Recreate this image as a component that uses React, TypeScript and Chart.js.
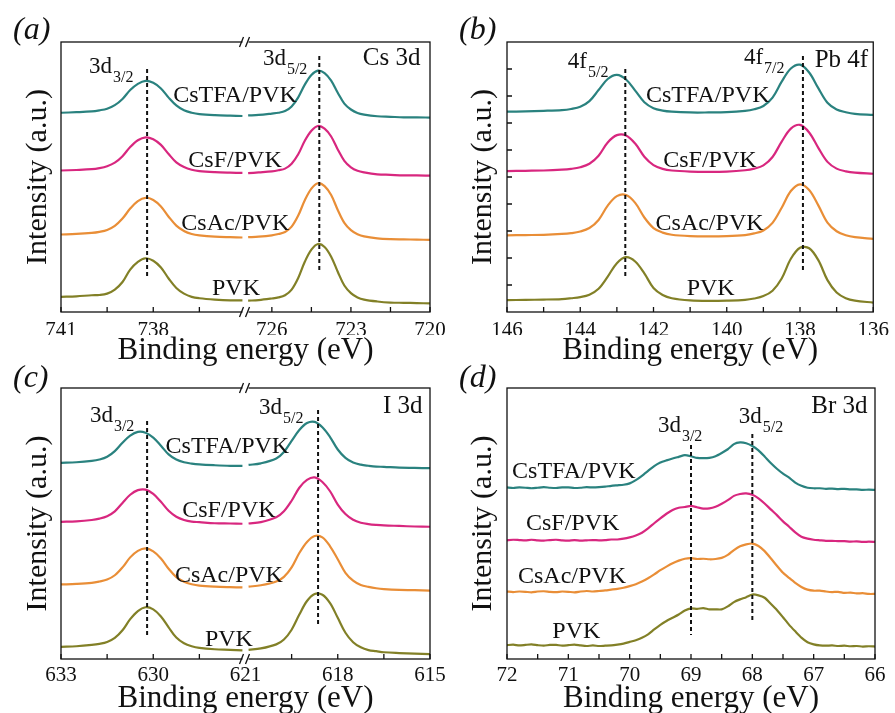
import React, { useEffect, useRef } from "react";
import { Chart, registerables } from "chart.js";

Chart.register(...registerables);

const FONT = "'Liberation Serif', 'Times New Roman', Times, serif";
const SAMPLE_NAMES = ["CsTFA/PVK", "CsF/PVK", "CsAc/PVK", "PVK"];
const SAMPLE_COLORS = ["#2a827f", "#d8277f", "#e98e37", "#828027"];

// ---------- (a) Cs 3d ----------
const csEnergyHigh = [741, 740.5, 740, 739.75, 739.5, 739.25, 739, 738.75, 738.5, 738.25, 738, 737.75, 737.5, 737.25, 737, 736.75, 736.5, 736, 735.5, 735.1];
const csHighCsTFA = [73.8, 74.0, 74.3, 74.7, 75.3, 76.6, 78.9, 82.2, 84.5, 85.6, 84.9, 82.8, 79.4, 76.5, 74.7, 73.8, 73.3, 72.9, 72.7, 72.6];
const csHighCsF = [52.4, 52.6, 52.9, 53.3, 54.0, 55.3, 57.7, 61.1, 63.6, 64.7, 64.0, 61.9, 58.5, 55.4, 53.7, 52.7, 52.2, 51.8, 51.6, 51.5];
const csHighCsAc = [28.7, 28.9, 29.3, 29.7, 30.4, 31.9, 34.6, 38.3, 41.1, 42.3, 41.5, 39.1, 35.3, 32.0, 30.0, 28.9, 28.4, 27.9, 27.7, 27.6];
const csHighPVK = [5.6, 5.8, 6.2, 6.3, 6.8, 8.3, 11.1, 15.7, 18.6, 19.9, 19.0, 16.5, 12.4, 8.9, 6.8, 5.6, 5.1, 4.6, 4.3, 4.3];

const csEnergyLow = [726.9, 726.5, 726, 725.75, 725.5, 725.25, 725, 724.75, 724.5, 724.25, 724, 723.75, 723.5, 723.25, 723, 722.75, 722.5, 722, 721.5, 721, 720.5, 720];
const csLowCsTFA = [72.8, 73.0, 73.5, 73.8, 74.4, 76.1, 79.5, 84.2, 87.8, 89.4, 88.5, 85.7, 81.2, 77.2, 75.0, 73.7, 73.1, 72.5, 72.3, 72.1, 72.1, 72.0];
const csLowCsF = [51.4, 51.7, 52.1, 52.5, 53.1, 54.9, 58.4, 63.4, 67.1, 68.9, 67.9, 65.0, 60.2, 56.0, 53.6, 52.3, 51.7, 51.0, 50.8, 50.6, 50.6, 50.5];
const csLowCsAc = [27.7, 27.9, 28.4, 28.9, 29.6, 31.6, 35.7, 41.4, 45.7, 47.7, 46.6, 43.3, 37.8, 33.0, 30.3, 28.8, 28.0, 27.3, 27.0, 26.9, 26.8, 26.7];
const csLowPVK = [4.2, 4.4, 5.0, 5.4, 6.2, 8.3, 12.6, 18.6, 23.1, 25.2, 24.1, 20.5, 14.9, 9.8, 7.0, 5.4, 4.6, 3.9, 3.5, 3.4, 3.3, 3.2];

const csTicksHigh = [741, 739.5, 738, 736.5];
const csTicksLow = [726, 724.5, 723, 721.5, 720];
const csTickLabels = [741, 738, 726, 723, 720];

// ---------- (b) Pb 4f ----------
const pbEnergy = [146, 145.5, 145, 144.5, 144.25, 144, 143.75, 143.5, 143.25, 143, 142.75, 142.5, 142.25, 142, 141.75, 141.5, 141, 140.5, 140, 139.5, 139.25, 139, 138.75, 138.5, 138.25, 138, 137.75, 137.5, 137.25, 137, 136.75, 136.5, 136];
const pbCsTFA = [74.2, 74.3, 74.5, 74.8, 75.2, 76.0, 78.1, 82.2, 86.3, 87.8, 86.1, 82.0, 77.7, 75.5, 74.6, 74.2, 73.9, 73.9, 74.0, 74.5, 75.1, 76.3, 79.4, 85.3, 90.2, 91.6, 88.7, 82.9, 77.5, 75.0, 74.0, 73.4, 73.0];
const pbCsF = [52.2, 52.3, 52.4, 52.7, 53.0, 53.6, 54.9, 57.9, 62.8, 65.5, 65.4, 62.4, 57.5, 54.4, 53.0, 52.4, 52.0, 51.9, 52.0, 52.5, 53.1, 54.3, 57.4, 63.1, 67.9, 69.3, 66.5, 60.8, 55.6, 53.1, 52.1, 51.6, 51.2];
const pbCsAc = [28.4, 28.5, 28.6, 28.9, 29.2, 29.8, 31.1, 34.1, 39.4, 42.9, 43.3, 40.4, 35.0, 31.1, 29.4, 28.6, 28.1, 28.0, 28.1, 28.5, 29.1, 30.2, 33.0, 38.6, 44.8, 47.3, 45.2, 39.5, 33.1, 29.9, 28.4, 27.7, 27.1];
const pbPVK = [4.4, 4.5, 4.6, 4.8, 5.1, 5.5, 6.4, 8.6, 13.1, 18.1, 20.3, 18.7, 14.3, 8.9, 6.3, 5.1, 4.3, 4.1, 4.2, 4.5, 5.0, 5.9, 7.9, 12.4, 19.7, 23.8, 23.6, 19.2, 11.8, 7.2, 5.1, 4.2, 3.5];
const pbTicks = [146, 145, 144, 143, 142, 141, 140, 139, 138, 137, 136];
const pbTickLabels = [146, 144, 142, 140, 138, 136];

// ---------- (c) I 3d ----------
const iEnergyHigh = [633, 632.5, 632, 631.75, 631.5, 631.25, 631, 630.75, 630.5, 630.25, 630, 629.75, 629.5, 629.25, 629, 628.75, 628.5, 628, 627.5, 627.1];
const iHighCsTFA = [72.4, 72.6, 73.1, 73.6, 74.6, 76.7, 79.8, 82.4, 83.8, 83.5, 81.7, 78.7, 75.5, 73.6, 72.6, 72.1, 71.8, 71.5, 71.3, 71.3];
const iHighCsF = [50.6, 50.8, 51.3, 51.8, 52.7, 54.5, 57.6, 60.6, 62.3, 62.5, 60.9, 58.0, 54.7, 52.5, 51.3, 50.7, 50.5, 50.1, 50.0, 49.9];
const iHighCsAc = [27.5, 27.7, 28.1, 28.6, 29.3, 30.9, 33.8, 37.5, 39.9, 40.8, 39.7, 37.1, 33.3, 30.2, 28.5, 27.6, 27.1, 26.7, 26.5, 26.4];
const iHighPVK = [4.5, 4.7, 5.2, 5.6, 6.3, 7.8, 10.6, 14.7, 17.7, 19.1, 18.3, 15.7, 11.7, 7.9, 5.8, 4.7, 4.1, 3.6, 3.4, 3.2];

const iEnergyLow = [620.9, 620.5, 620, 619.75, 619.5, 619.25, 619, 618.75, 618.5, 618.25, 618, 617.75, 617.5, 617.25, 617, 616.75, 616.5, 616, 615.5, 615];
const iLowCsTFA = [71.6, 72.2, 74.0, 76.4, 80.5, 84.5, 87.1, 87.5, 85.5, 81.9, 77.3, 74.2, 72.5, 71.7, 71.3, 71.0, 70.9, 70.6, 70.5, 70.4];
const iLowCsF = [50.0, 50.5, 52.3, 54.5, 58.4, 63.2, 66.1, 67.0, 65.3, 61.9, 57.0, 53.5, 51.4, 50.3, 49.8, 49.5, 49.3, 49.1, 48.9, 48.8];
const iLowCsAc = [26.7, 27.2, 28.6, 30.3, 33.8, 39.1, 43.2, 45.4, 44.9, 41.6, 36.8, 31.8, 28.9, 27.3, 26.6, 26.1, 25.8, 25.5, 25.4, 25.2];
const iLowPVK = [3.4, 3.9, 5.4, 7.2, 10.8, 16.4, 21.4, 24.0, 23.7, 20.6, 15.2, 9.7, 6.2, 4.3, 3.3, 2.9, 2.5, 2.2, 2.0, 1.8];

const iTicksHigh = [633, 631.5, 630, 628.5];
const iTicksLow = [621, 619.5, 618, 616.5, 615];
const iTickLabels = [633, 630, 621, 618, 615];

// ---------- (d) Br 3d ----------
const brEnergy = [72.0, 71.9, 71.8, 71.7, 71.6, 71.5, 71.4, 71.3, 71.2, 71.1, 71.0, 70.9, 70.8, 70.7, 70.6, 70.5, 70.4, 70.3, 70.2, 70.1, 70.0, 69.9, 69.8, 69.7, 69.6, 69.5, 69.4, 69.3, 69.2, 69.1, 69.0, 68.9, 68.8, 68.7, 68.6, 68.5, 68.4, 68.3, 68.2, 68.1, 68.0, 67.9, 67.8, 67.7, 67.6, 67.5, 67.4, 67.3, 67.2, 67.1, 67.0, 66.9, 66.8, 66.7, 66.6, 66.5, 66.4, 66.3, 66.2, 66.1, 66.0];
const brCsTFA = [63.3, 63.1, 63.3, 63.2, 63.0, 63.2, 63.4, 63.2, 63.1, 63.3, 63.3, 63.1, 63.2, 63.4, 63.3, 63.4, 63.6, 63.9, 64.1, 64.3, 64.8, 66.0, 67.6, 69.4, 71.2, 72.5, 73.3, 74.0, 74.6, 75.2, 74.8, 74.2, 74.1, 74.2, 74.8, 76.0, 77.4, 79.3, 79.9, 79.6, 78.6, 77.0, 74.7, 72.3, 70.2, 68.4, 66.9, 65.1, 63.9, 63.2, 63.0, 63.0, 62.8, 62.9, 62.7, 62.8, 62.6, 62.6, 62.4, 62.5, 62.4];
const brCsF = [43.8, 44.0, 43.9, 43.8, 44.0, 43.8, 43.7, 43.9, 44.0, 43.8, 43.7, 43.9, 43.7, 43.8, 43.9, 43.8, 43.9, 44.1, 44.1, 44.4, 44.9, 45.6, 46.6, 48.2, 50.1, 51.9, 53.6, 55.0, 55.8, 56.1, 56.5, 56.0, 55.5, 55.6, 56.2, 57.3, 58.6, 60.2, 60.9, 61.1, 60.6, 59.3, 57.4, 55.2, 53.1, 50.8, 48.8, 46.7, 45.1, 44.4, 44.0, 43.8, 43.6, 43.6, 43.5, 43.5, 43.3, 43.4, 43.2, 43.3, 43.2];
const brCsAc = [24.9, 24.7, 24.9, 24.8, 24.6, 24.9, 25.0, 24.8, 24.7, 24.9, 24.8, 24.6, 24.9, 25.1, 24.9, 25.1, 25.3, 25.6, 25.9, 26.3, 26.9, 27.6, 28.6, 29.8, 31.2, 32.8, 34.1, 35.3, 36.3, 37.0, 37.2, 36.9, 37.0, 36.8, 36.9, 37.3, 38.4, 40.2, 41.6, 42.3, 42.6, 41.7, 39.8, 37.2, 34.4, 31.8, 29.9, 28.1, 26.6, 25.6, 25.2, 25.2, 24.9, 24.7, 24.8, 24.4, 24.5, 24.2, 24.3, 24.0, 24.0];
const brPVK = [5.1, 5.3, 5.0, 5.2, 5.4, 5.1, 4.9, 5.2, 5.2, 4.9, 5.1, 5.3, 5.0, 4.8, 5.0, 4.8, 4.9, 5.0, 5.3, 5.7, 6.3, 6.9, 7.8, 9.1, 10.9, 12.6, 14.0, 15.2, 16.4, 17.9, 18.7, 18.5, 18.8, 18.3, 18.3, 18.3, 19.4, 21.0, 22.0, 22.8, 23.8, 23.5, 22.6, 20.4, 18.1, 15.4, 12.6, 10.2, 7.9, 6.2, 5.4, 5.0, 4.9, 5.0, 4.8, 4.9, 4.7, 4.8, 4.6, 4.7, 4.6];
const brTicks = [72, 71.5, 71, 70.5, 70, 69.5, 69, 68.5, 68, 67.5, 67, 66.5, 66];
const brTickLabels = [72, 71, 70, 69, 68, 67, 66];

type Seg = { id: string; min: number; max: number; ticks: number[]; energies: number[]; series: number[][] };
type Pt = { axis: string; x: number; y: number };
type Panel = {
  tag: string;
  element: string;
  pad: { left: number; top: number; right: number; bottom: number };
  yAxisWidth: number;
  yTitlePad: number;
  xAxisHeight: number;
  tickPad: number;
  tagDy: number;
  yTicks: boolean;
  tension: number;
  tickLabels: number[];
  segments: Seg[];
  dashes: { axis: string; x: number; y0: number; y1: number }[];
  peaks: (Pt & { main: string; sub: string })[];
  elementAt: Pt;
  samplesAt: Pt[];
};

const PANELS: Panel[] = [
  {
    tag: "(a)",
    element: "Cs 3d",
    pad: { left: 0, top: 42, right: 465, bottom: 347 },
    yAxisWidth: 61,
    yTitlePad: 23,
    xAxisHeight: 23,
    tickPad: 6,
    tagDy: -3,
    yTicks: false,
    tension: 0.35,
    tickLabels: csTickLabels,
    segments: [
      { id: "xl", min: 735, max: 741, ticks: csTicksHigh, energies: csEnergyHigh, series: [csHighCsTFA, csHighCsF, csHighCsAc, csHighPVK] },
      { id: "xr", min: 720, max: 727, ticks: csTicksLow, energies: csEnergyLow, series: [csLowCsTFA, csLowCsF, csLowCsAc, csLowPVK] },
    ],
    dashes: [
      { axis: "xl", x: 738.2, y0: 13, y1: 90 },
      { axis: "xr", x: 724.2, y0: 14.4, y1: 94.8 },
    ],
    peaks: [
      { axis: "xl", x: 740.09, y: 88.5, main: "3d", sub: "3/2" },
      { axis: "xr", x: 726.34, y: 91.5, main: "3d", sub: "5/2" },
    ],
    elementAt: { axis: "xr", x: 722.55, y: 91.5 },
    samplesAt: [
      { axis: "xl", x: 735.34, y: 77.8 },
      { axis: "xl", x: 735.34, y: 53.7 },
      { axis: "xl", x: 735.33, y: 30.4 },
      { axis: "xl", x: 735.31, y: 6.3 },
    ],
  },
  {
    tag: "(b)",
    element: "Pb 4f",
    pad: { left: 447, top: 42, right: 20, bottom: 347 },
    yAxisWidth: 60,
    yTitlePad: 21,
    xAxisHeight: 23,
    tickPad: 6,
    tagDy: -3,
    yTicks: true,
    tension: 0.35,
    tickLabels: pbTickLabels,
    segments: [{ id: "x", min: 136, max: 146, ticks: pbTicks, energies: pbEnergy, series: [pbCsTFA, pbCsF, pbCsAc, pbPVK] }],
    dashes: [
      { axis: "x", x: 142.77, y0: 13, y1: 90 },
      { axis: "x", x: 137.92, y0: 14.8, y1: 94.8 },
    ],
    peaks: [
      { axis: "x", x: 144.34, y: 90.4, main: "4f", sub: "5/2" },
      { axis: "x", x: 139.53, y: 91.9, main: "4f", sub: "7/2" },
    ],
    elementAt: { axis: "x", x: 137.6, y: 90.7 },
    samplesAt: [
      { axis: "x", x: 140.52, y: 77.8 },
      { axis: "x", x: 140.46, y: 53.7 },
      { axis: "x", x: 140.47, y: 30.4 },
      { axis: "x", x: 140.44, y: 6.3 },
    ],
  },
  {
    tag: "(c)",
    element: "I 3d",
    pad: { left: 0, top: 388, right: 465, bottom: -1 },
    yAxisWidth: 61,
    yTitlePad: 23,
    xAxisHeight: 24,
    tickPad: 4,
    tagDy: -1,
    yTicks: false,
    tension: 0.35,
    tickLabels: iTickLabels,
    segments: [
      { id: "xl", min: 627, max: 633, ticks: iTicksHigh, energies: iEnergyHigh, series: [iHighCsTFA, iHighCsF, iHighCsAc, iHighPVK] },
      { id: "xr", min: 615, max: 621, ticks: iTicksLow, energies: iEnergyLow, series: [iLowCsTFA, iLowCsF, iLowCsAc, iLowPVK] },
    ],
    dashes: [
      { axis: "xl", x: 630.2, y0: 8.1, y1: 87.8 },
      { axis: "xr", x: 618.64, y0: 11.8, y1: 91.9 },
    ],
    peaks: [
      { axis: "xl", x: 632.06, y: 87.5, main: "3d", sub: "3/2" },
      { axis: "xr", x: 620.56, y: 90.4, main: "3d", sub: "5/2" },
    ],
    elementAt: { axis: "xr", x: 616.53, y: 90.8 },
    samplesAt: [
      { axis: "xl", x: 627.59, y: 76.0 },
      { axis: "xl", x: 627.54, y: 52.4 },
      { axis: "xl", x: 627.54, y: 28.4 },
      { axis: "xl", x: 627.54, y: 4.8 },
    ],
  },
  {
    tag: "(d)",
    element: "Br 3d",
    pad: { left: 447, top: 388, right: 20, bottom: -1 },
    yAxisWidth: 60,
    yTitlePad: 21,
    xAxisHeight: 24,
    tickPad: 4,
    tagDy: -1,
    yTicks: false,
    tension: 0.2,
    tickLabels: brTickLabels,
    segments: [{ id: "x", min: 66, max: 72, ticks: brTicks, energies: brEnergy, series: [brCsTFA, brCsF, brCsAc, brPVK] }],
    dashes: [
      { axis: "x", x: 69.0, y0: 8.9, y1: 79.0 },
      { axis: "x", x: 68.0, y0: 13.3, y1: 83.0 },
    ],
    peaks: [
      { axis: "x", x: 69.54, y: 83.8, main: "3d", sub: "3/2" },
      { axis: "x", x: 68.22, y: 87.1, main: "3d", sub: "5/2" },
    ],
    elementAt: { axis: "x", x: 67.04, y: 90.8 },
    samplesAt: [
      { axis: "x", x: 70.91, y: 66.8 },
      { axis: "x", x: 70.93, y: 47.6 },
      { axis: "x", x: 70.94, y: 28.0 },
      { axis: "x", x: 70.87, y: 7.7 },
    ],
  },
];

function makeDecor(p: Panel) {
  return {
    id: "decor",
    afterDatasetsDraw(chart: any) {
      const ctx = chart.ctx;
      const ys = chart.scales.y;
      ctx.save();
      ctx.setLineDash([4, 3]);
      ctx.lineWidth = 2;
      ctx.strokeStyle = "#111";
      for (const d of p.dashes) {
        const x = chart.scales[d.axis].getPixelForValue(d.x);
        ctx.beginPath();
        ctx.moveTo(x, ys.getPixelForValue(d.y1));
        ctx.lineTo(x, ys.getPixelForValue(d.y0));
        ctx.stroke();
      }
      ctx.restore();
    },
    afterDraw(chart: any) {
      const { ctx, chartArea: ca } = chart;
      const ys = chart.scales.y;
      ctx.save();
      ctx.strokeStyle = "#111";
      ctx.lineWidth = 1.3;
      ctx.strokeRect(ca.left, ca.top, ca.right - ca.left, ca.bottom - ca.top);
      const breakX = p.segments.length > 1 ? chart.scales[p.segments[0].id].right : null;
      // inward x ticks
      ctx.beginPath();
      for (const seg of p.segments) {
        const s = chart.scales[seg.id];
        for (const t of s.ticks) {
          const x = s.getPixelForValue(t.value);
          if (breakX !== null && Math.abs(x - breakX) < 4) continue;
          ctx.moveTo(x, ca.bottom);
          ctx.lineTo(x, ca.bottom - 5);
        }
      }
      if (p.yTicks) {
        for (const t of ys.ticks) {
          if (t.value <= 0 || t.value >= 100) continue;
          const y = ys.getPixelForValue(t.value);
          ctx.moveTo(ca.left, y);
          ctx.lineTo(ca.left + 5, y);
        }
      }
      ctx.stroke();
      // axis break marks
      if (breakX !== null) {
        for (const by of [ca.top, ca.bottom]) {
          ctx.fillStyle = "#fff";
          ctx.fillRect(breakX - 3, by - 2, 6, 4);
          ctx.beginPath();
          ctx.moveTo(breakX - 6, by + 5);
          ctx.lineTo(breakX - 2, by - 5);
          ctx.moveTo(breakX + 0, by + 5);
          ctx.lineTo(breakX + 4, by - 5);
          ctx.stroke();
        }
      }
      ctx.fillStyle = "#111";
      ctx.textBaseline = "alphabetic";
      // panel tag
      ctx.font = `italic 32px ${FONT}`;
      ctx.textAlign = "left";
      ctx.fillText(p.tag, ca.left - 48, ca.top + p.tagDy);
      // element name
      ctx.font = `25px ${FONT}`;
      ctx.fillText(p.element, chart.scales[p.elementAt.axis].getPixelForValue(p.elementAt.x), ys.getPixelForValue(p.elementAt.y));
      // peak names with subscripts
      for (const pk of p.peaks) {
        const x = chart.scales[pk.axis].getPixelForValue(pk.x);
        const y = ys.getPixelForValue(pk.y);
        ctx.font = `23px ${FONT}`;
        ctx.fillText(pk.main, x, y);
        const w = ctx.measureText(pk.main).width;
        ctx.font = `16px ${FONT}`;
        ctx.fillText(pk.sub, x + w + 1, y + 9);
      }
      // sample names
      ctx.font = `24px ${FONT}`;
      ctx.textAlign = "center";
      p.samplesAt.forEach((s, i) => {
        ctx.fillText(SAMPLE_NAMES[i], chart.scales[s.axis].getPixelForValue(s.x), ys.getPixelForValue(s.y));
      });
      ctx.restore();
    },
  };
}

function PanelChart({ panel }: { panel: Panel }) {
  const ref = useRef<HTMLCanvasElement>(null);
  useEffect(() => {
    const canvas = ref.current;
    if (!canvas) return;
    const datasets: any[] = [];
    panel.segments.forEach((seg) => {
      seg.series.forEach((vals, k) => {
        datasets.push({
          label: `${SAMPLE_NAMES[k]} ${seg.id}`,
          data: seg.energies.map((e, i) => ({ x: e, y: vals[i] })),
          xAxisID: seg.id,
          yAxisID: "y",
          borderColor: SAMPLE_COLORS[k],
          backgroundColor: SAMPLE_COLORS[k],
          borderWidth: 2.2,
          pointRadius: 0,
          fill: false,
          tension: panel.tension,
        });
      });
    });
    const scales: any = {
      y: {
        type: "linear",
        position: "left",
        min: 0,
        max: 100,
        ticks: { display: false, stepSize: 10 },
        grid: { display: false, drawTicks: false },
        border: { display: false },
        title: {
          display: true,
          text: "Intensity (a.u.)",
          color: "#111",
          font: { family: FONT, size: 30, lineHeight: 1 },
          padding: { top: panel.yTitlePad, bottom: 0 },
        },
        afterFit: (s: any) => {
          s.width = panel.yAxisWidth;
        },
      },
    };
    const stacked = panel.segments.length > 1;
    panel.segments.forEach((seg) => {
      scales[seg.id] = {
        type: "linear",
        position: "bottom",
        min: seg.min,
        max: seg.max,
        reverse: true,
        ...(stacked ? { stack: "energy", stackWeight: 1 } : {}),
        afterBuildTicks: (s: any) => {
          s.ticks = seg.ticks.map((v) => ({ value: v }));
        },
        ticks: {
          autoSkip: false,
          maxRotation: 0,
          minRotation: 0,
          padding: panel.tickPad,
          color: "#111",
          font: { family: FONT, size: 21 },
          callback: (v: any) => (panel.tickLabels.includes(Number(v)) ? String(v) : ""),
        },
        grid: { display: false, drawTicks: false },
        border: { display: false },
        afterFit: (s: any) => {
          s.height = panel.xAxisHeight;
        },
      };
    });
    const chart = new Chart(canvas, {
      type: "line",
      data: { datasets },
      options: {
        responsive: false,
        animation: false,
        devicePixelRatio: 1,
        events: [],
        layout: { padding: panel.pad },
        scales,
        plugins: {
          legend: { display: false },
          tooltip: { enabled: false },
          title: {
            display: true,
            position: "bottom",
            fullSize: false,
            text: "Binding energy (eV)",
            color: "#111",
            font: { family: FONT, size: 31, weight: "normal", lineHeight: 1 },
            padding: 0,
          },
        },
      } as any,
      plugins: [makeDecor(panel)],
    });
    return () => chart.destroy();
  }, [panel]);
  return <canvas ref={ref} width={895} height={713} style={{ position: "absolute", left: 0, top: 0 }} />;
}

export default function App() {
  return (
    <div style={{ position: "fixed", left: 0, top: 0, width: 895, height: 713, background: "#fff", overflow: "hidden" }}>
      {PANELS.map((p) => (
        <PanelChart key={p.tag} panel={p} />
      ))}
    </div>
  );
}
